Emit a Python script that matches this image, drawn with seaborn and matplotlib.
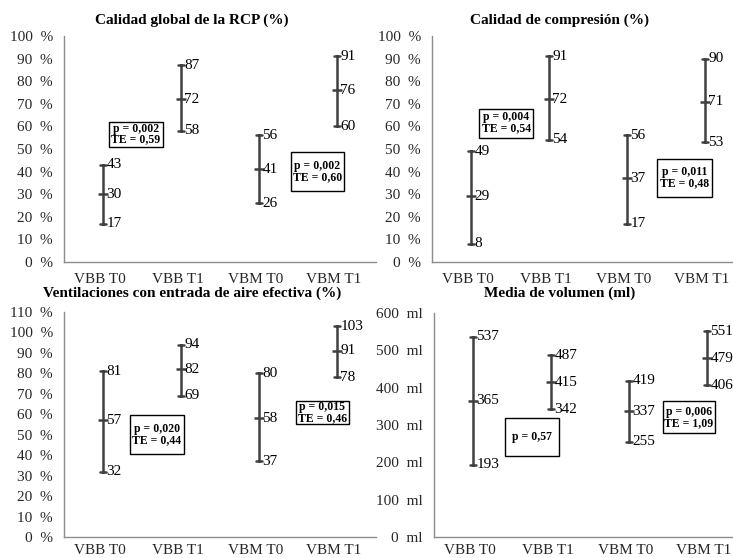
"""
Intervalos (min - media - max) por grupo y momento, 4 paneles.
Dibujado con seaborn pointplot: mediana de (bajo, media, alto) = media,
intervalo percentil 100 = [bajo, alto].
"""
import numpy as np
import pandas as pd
import matplotlib
matplotlib.use("Agg")
import matplotlib.pyplot as plt
import matplotlib.transforms as mtransforms
from matplotlib.patches import Rectangle
import seaborn as sns

# ------------------------------------------------------------------
# DATA
# ------------------------------------------------------------------
categorias = ["VBB T0", "VBB T1", "VBM T0", "VBM T1"]

titulos = [
    "Calidad global de la RCP (%)",
    "Calidad de compresión (%)",
    "Ventilaciones con entrada de aire efectiva (%)",
    "Media de volumen (ml)",
]
unidades = ["%", "%", "%", "ml"]

rcp_media = [30, 72, 41, 76]
rcp_bajo = [17, 58, 26, 60]
rcp_alto = [43, 87, 56, 91]

comp_media = [29, 72, 37, 71]
comp_bajo = [8, 54, 17, 53]
comp_alto = [49, 91, 56, 90]

vent_media = [57, 82, 58, 91]
vent_bajo = [32, 69, 37, 78]
vent_alto = [81, 94, 80, 103]

vol_media = [365, 415, 337, 479]
vol_bajo = [193, 342, 255, 406]
vol_alto = [537, 487, 419, 551]

y_ticks = [
    list(range(0, 101, 10)),
    list(range(0, 101, 10)),
    list(range(0, 111, 10)),
    list(range(0, 601, 100)),
]

cajas_texto = [
    ["p = 0,002\nTE = 0,59", "p = 0,002\nTE = 0,60"],
    ["p = 0,004\nTE = 0,54", "p = 0,011\nTE = 0,48"],
    ["p = 0,020\nTE = 0,44", "p = 0,015\nTE = 0,46"],
    ["p = 0,57", "p = 0,006\nTE = 1,09"],
]

# ------------------------------------------------------------------
# LAYOUT (positions / sizes)
# ------------------------------------------------------------------
W, H = 733, 558
# axes rectangles in pixels: left, bottom(0 line), right, top(max line)
ejes_px = [
    (64, 262, 376, 36),
    (432, 262, 744, 36),
    (64, 537, 376, 312),
    (434, 537, 746, 313),
]
pad_x = [8, 8, 5, 5]
titulo_px = [(192, 20), (560, 20), (192, 293), (560, 293)]
# box centres (data x, data y) and sizes in px (w, h)
cajas_pos = [
    [(0.42, 56.6, 54, 25), (2.75, 40.0, 53, 39)],
    [(0.45, 61.5, 54, 29), (2.74, 37.2, 55, 38)],
    [(0.69, 50.1, 54, 39), (2.81, 60.9, 53, 23)],
    [(0.76, 268, 54, 38), (2.77, 321, 52, 32)],
]

GRIS_EJE = "#8c8c8c"
GRIS_BARRA = "#404040"

sns.set_style("white")
plt.rcParams["font.family"] = ["Liberation Serif", "DejaVu Serif"]
plt.rcParams["text.color"] = "black"

fig = plt.figure(figsize=(W / 100, H / 100), dpi=100)

series = [
    (rcp_media, rcp_bajo, rcp_alto),
    (comp_media, comp_bajo, comp_alto),
    (vent_media, vent_bajo, vent_alto),
    (vol_media, vol_bajo, vol_alto),
]

# small leftward shift of category labels, as in the source chart
shift = mtransforms.ScaledTranslation(-3 / 100, 0, fig.dpi_scale_trans)

for k, (media, bajo, alto) in enumerate(series):
    l, b, r, t = ejes_px[k]
    ax = fig.add_axes([l / W, 1 - b / H, (r - l) / W, (b - t) / H])

    df = pd.DataFrame({
        "grupo": categorias * 3,
        "valor": list(bajo) + list(media) + list(alto),
    })
    sns.pointplot(data=df, x="grupo", y="valor", order=categorias,
                  estimator="median", errorbar=("pi", 100),
                  color=GRIS_BARRA, marker="_", markersize=7,
                  markeredgewidth=1.8, linestyle="none",
                  capsize=0.085, err_kws={"linewidth": 1.8}, ax=ax)

    ymax = y_ticks[k][-1]
    ax.set_xlim(-0.5, 3.5)
    ax.set_ylim(0, ymax)
    ax.set_xlabel("")
    ax.set_ylabel("")

    ax.set_yticks(y_ticks[k], labels=[f"{v}  {unidades[k]}" for v in y_ticks[k]])
    ax.set_xticks(range(len(categorias)), labels=categorias)
    ax.set_xticks(np.arange(-0.5, 3.6, 1.0), minor=True)
    ax.tick_params(axis="y", length=0, pad=8, labelsize=11)
    ax.tick_params(axis="x", which="major", length=0, pad=pad_x[k], labelsize=11)
    ax.tick_params(axis="x", which="minor", length=4, width=1,
                   color=GRIS_EJE, direction="out")
    for lab in ax.get_xticklabels():
        lab.set_transform(lab.get_transform() + shift)

    for s in ("top", "right"):
        ax.spines[s].set_visible(False)
    for s in ("left", "bottom"):
        ax.spines[s].set_color(GRIS_EJE)
        ax.spines[s].set_linewidth(1)

    # value labels next to each tick
    for i in range(len(categorias)):
        for v in (alto[i], media[i], bajo[i]):
            ax.annotate(f"{v}", xy=(i, v), xytext=(2.5, 0),
                        textcoords="offset points", ha="left", va="center",
                        fontsize=11, annotation_clip=False)

    # p / TE boxes
    px_x = (r - l) / 4.0
    px_y = (b - t) / ymax
    for (cx, cy, bw, bh), txt in zip(cajas_pos[k], cajas_texto[k]):
        w_d, h_d = bw / px_x, bh / px_y
        ax.add_patch(Rectangle((cx - w_d / 2, cy - h_d / 2), w_d, h_d,
                               fill=True, facecolor="white",
                               edgecolor="black", linewidth=1, zorder=3))
        ax.text(cx, cy, txt, ha="center", va="center", fontsize=8.5,
                fontweight="bold", linespacing=0.9, zorder=4)

    tx, ty = titulo_px[k]
    fig.text(tx / W, 1 - ty / H, titulos[k], ha="center", va="center",
             fontsize=11, fontweight="bold")

fig.savefig("out.png", dpi=100)
